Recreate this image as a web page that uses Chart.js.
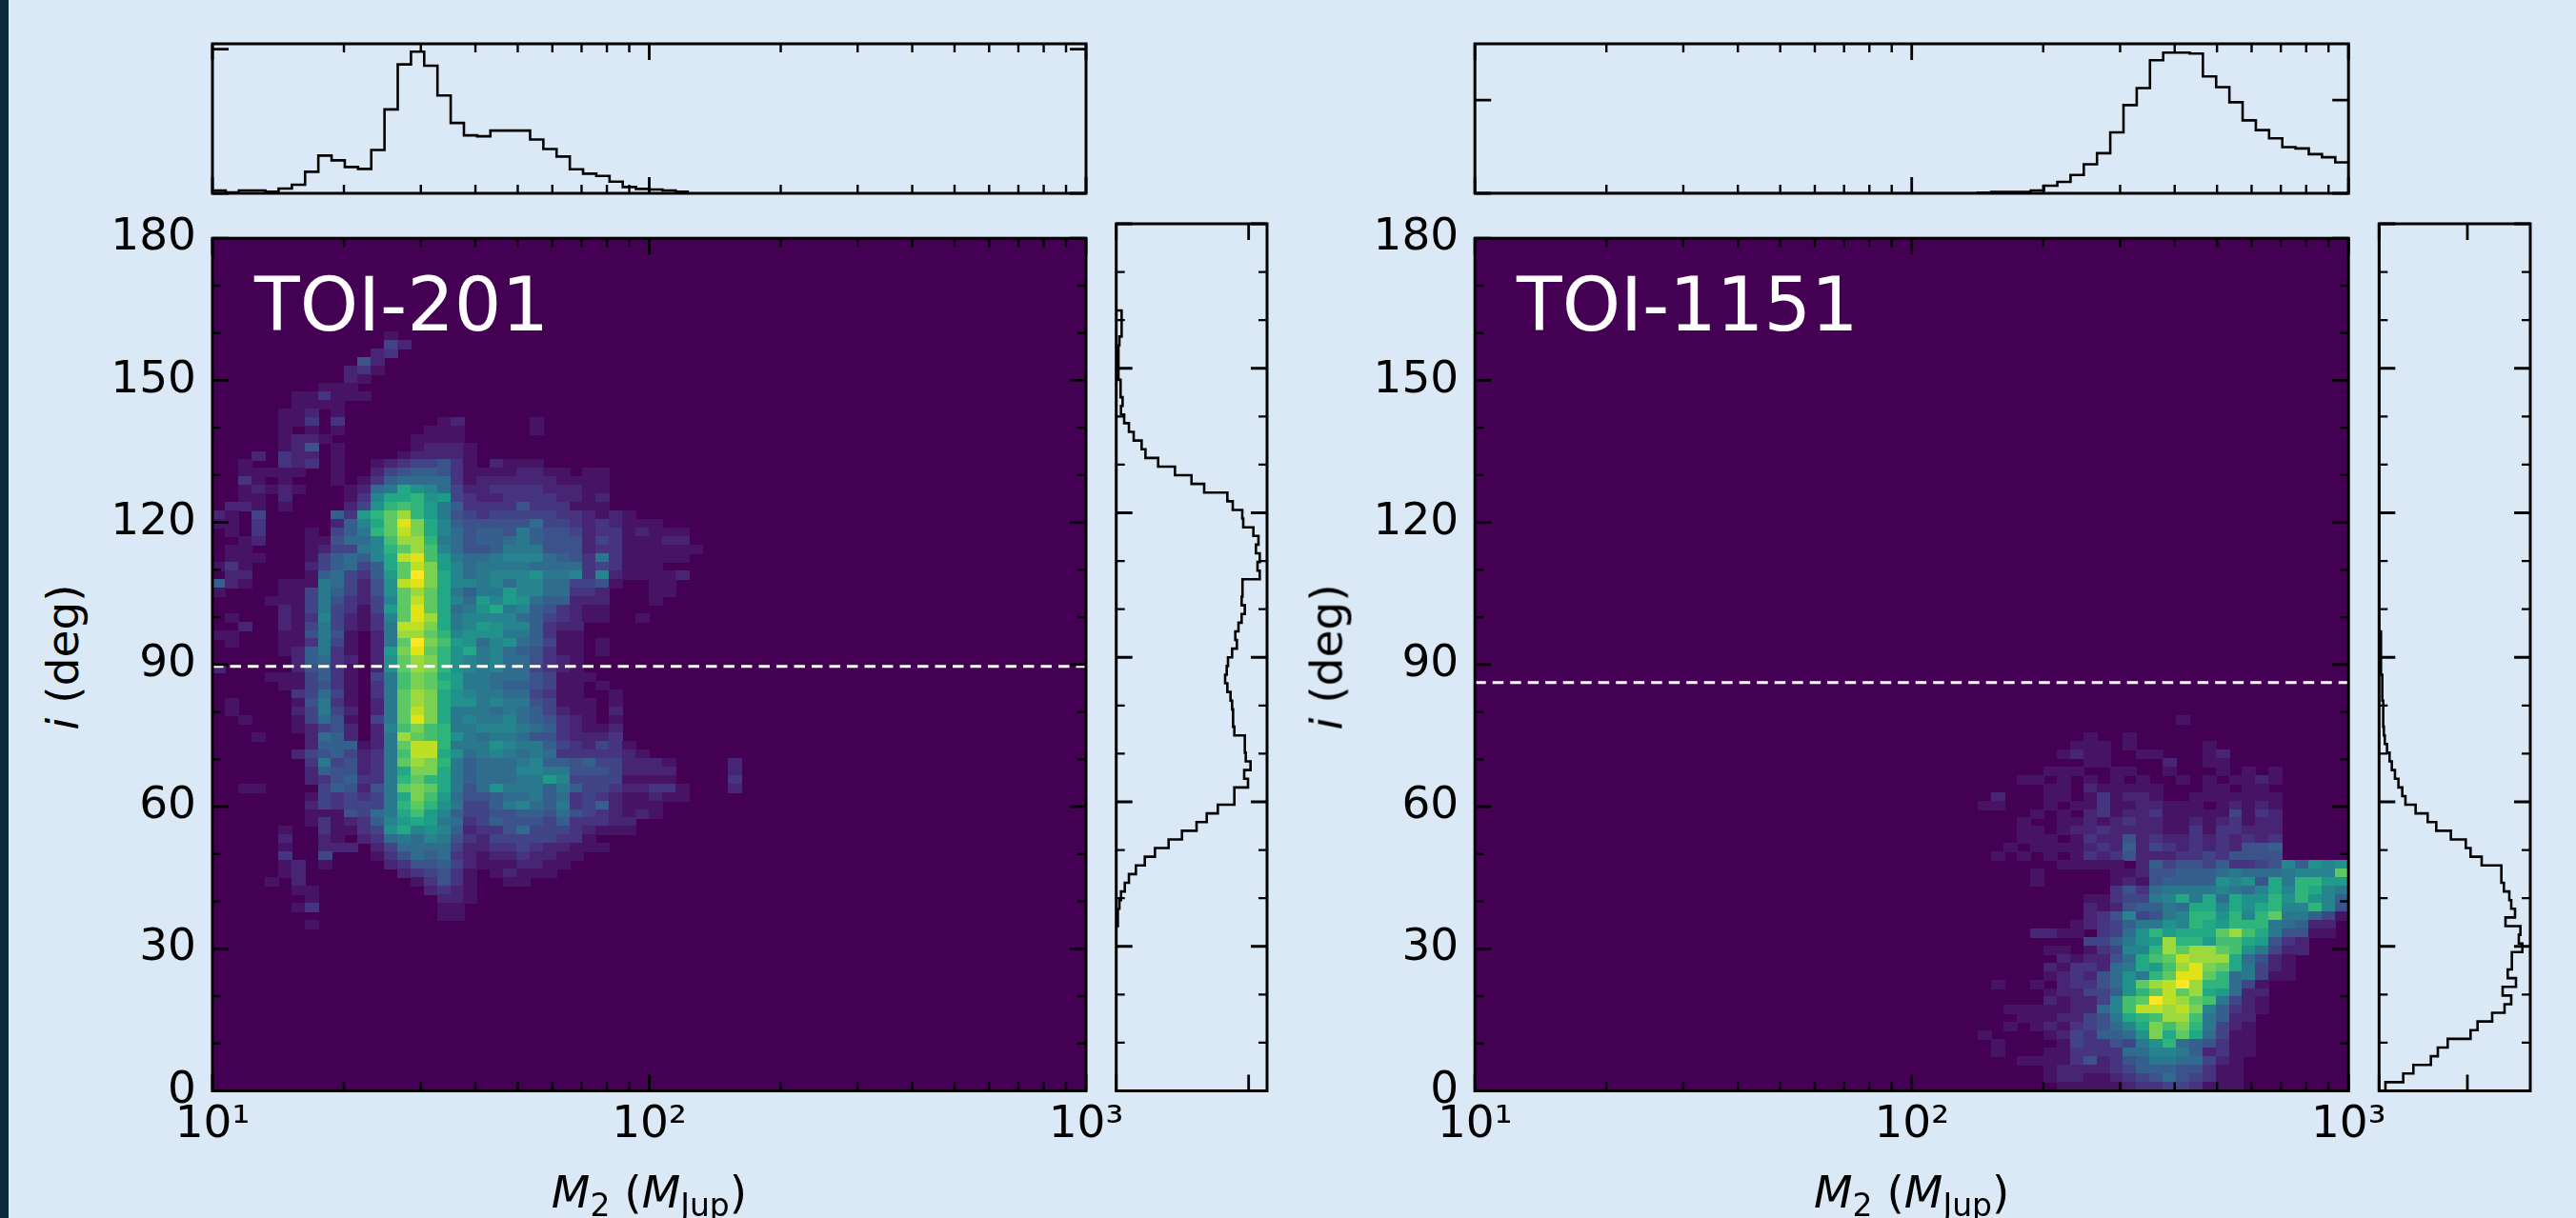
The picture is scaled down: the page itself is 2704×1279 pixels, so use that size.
<!DOCTYPE html>
<html><head><meta charset="utf-8">
<script src="https://cdn.jsdelivr.net/npm/chart.js@4"></script>
<style>
html,body{margin:0;padding:0;background:#dbe9f6;width:2704px;height:1279px;overflow:hidden;font-family:"DejaVu Sans",sans-serif;color:#000}
canvas{position:absolute;display:block}
#stripe{position:absolute;left:0;top:0;width:9px;height:1279px;background:#0c2a3e}
.t{position:absolute;white-space:nowrap;line-height:1}
.xl,.yl{font-size:47px}
.xl{transform:translateX(-50%)}
.yl{transform:translate(-50%,-50%) rotate(-90deg)}
.xl sub{font-size:33px;vertical-align:-9px;line-height:0}
.name{font-size:78px;color:#fff}
</style></head><body>
<div id="stripe"></div>
<script>
// ---------- data ----------
const xEdgeRange=[10,1000], yRange=[0,180], nX=66, nY=100;
const xMajorTicks=[10,100,1000];
const xMinorTicks=[20,30,40,50,60,70,80,90,200,300,400,500,600,700,800,900];
const xTickLabels=['10¹','10²','10³'];
const yMajorTicks=[0,30,60,90,120,150,180];
const yMinorTicks=[10,20,40,50,70,80,100,110,130,140,160,170];
const yTickLabels=['0','30','60','90','120','150','180'];
const names=['TOI-201','TOI-1151'];
const dashedLevels=[89.6,86.2];

// top histograms: one count per mass bin
const topCountsA=[9,3,9,9,5,15,27,68,119,104,83,77,137,265,407,447,403,309,222,183,180,198,198,198,170,140,116,76,62,55,37,20,14,12,9,5];
const topCountsB=[0,0,0,0,0,0,0,0,0,0,0,0,0,0,0,0,0,0,0,0,0,0,0,0,0,0,0,0,0,0,0,0,0,0,0,0,0,0,2,4,4,4,9,24,36,58,92,127,193,279,333,421,445,445,442,370,336,288,231,200,174,146,142,124,114,98];
const topScaleMax=[472,473];
const topTickExtra=[455,295];

// side histograms: one count per inclination bin, from i = 0 upward
const sideCountsA=[0,0,0,0,0,0,0,0,0,0,0,0,0,0,0,0,0,0,0,5,5,10,15,27,40,62,90,122,165,207,253,285,320,372,372,415,403,423,408,405,405,372,368,368,365,360,350,343,348,352,365,380,375,385,395,405,395,397,398,452,445,452,440,448,432,400,397,367,350,277,237,185,132,92,80,55,40,25,15,20,15,13,7,7,7,7,10,17,17,17,0,0,0,0,0,0,0,0,0,0];
const sideCountsB=[20,76,108,163,185,216,288,310,356,395,416,389,431,405,418,418,451,440,445,398,428,416,410,393,385,385,323,288,273,226,180,153,115,83,73,61,50,40,33,25,18,15,13,13,13,10,10,10,6,6,6,6,6,0,0,0,0,0,0,0,0,0,0,0,0,0,0,0,0,0,0,0,0,0,0,0,0,0,0,0,0,0,0,0,0,0,0,0,0,0,0,0,0,0,0,0,0,0,0,0];
const sideScaleMax=[475,476];
const sideTickExtra=[417,278];

// 2-D histogram levels 0..20 (0-9, a-k); each row lists columns left to right in groups of five
const cellRowsTopA=88;
const cellRowsA=[
"00000 00000 00010",
"00000 00000 00042",
"00000 00000 00230",
"00000 00000 05200",
"00000 00000 23100",
"00000 00000 21000",
"00000 00011 10000",
"00000 01131 11000",
"00000 01111",
"00000 11201",
"00000 11303 00000 00120 00001",
"00000 10101 00000 01110 00001",
"00000 12210 00000 11110",
"00000 12501 00000 12221",
"00020 32201 00001 22221",
"00100 32301 00123 44531 02111",
"00111 11001 00245 66531 11122 11011",
"00310 10001 01367 77731 22222 21111",
"00121 21000 1278c a9742 23333 22211",
"00110 20000 139cc dab43 22333 32212",
"02210 10000 24ade db863 33353 33111",
"21040 00006 3bdfh db854 34444 43321 21000",
"11030 00002 69cfj gc965 55557 44323 21110",
"01030 00104 68dfi gc975 66586 55423 31211 1",
"00120 00115 779eh hd875 66786 55524 31112 2",
"01100 00124 489df he975 56888 55523 31111 11",
"01110 00146 769ci jeb87 78999 76538 31111 1",
"13100 00246 746cf igb97 88887 77734 31110",
"02200 00167 436bf kgc97 8999a 88939 21111 2",
"62100 11187 425ai jgc99 89799 77445 10011",
"10000 11486 425af hfc86 88b99 77332 00011",
"00001 11485 3249f ifc97 b9ba7 66222 00010",
"00000 21484 314bf jfc78 ac896 53211",
"01000 21394 2139f jhc89 99976 43211 00100",
"00200 21484 2138i igc89 ba996 32200",
"11000 11585 1028h hfd9a aa886 31100",
"01000 11384 1028f kgeba 79a76 41101",
"00000 12683 102bg jfdac 89765 31101",
"00000 02673 202af hgda9 89775 32100",
"20000 02563 102af hgda9 89774 32100",
"00001 11463 1048e gfcb8 87775 41110",
"00000 11453 1038e gfdb8 87665 41101",
"00000 03474 1038f hgca9 88774 31100 10000",
"01000 01583 1028f hgcaa 89885 41110 10000",
"01000 02484 2028f igc88 87876 42110 20000",
"00100 01475 1048f jgc89 88976 53210 10000",
"00000 01245 2029e ged88 99987 63211 20000",
"00010 00276 2028h feda8 78875 53222 30000",
"00000 00266 6128f iid88 8a988 64324 31000",
"00000 02456 4238e iica7 89878 73333 32100",
"00000 00384 5238f hgd86 77789 66564 42221 00002",
"00000 00265 5238c ggc86 77799 88555 42222 00002",
"00000 00235 6338d fdc86 77788 b9444 41111 00003",
"00110 00046 5258f gfc85 7a888 68644 32233 10002",
"00000 00143 4348c geb75 56778 67343 21121 10000",
"00000 00243 4448d fda84 46897 68346 21110",
"00000 00111 5478c eb964 45566 57543 21210",
"00000 00131 2369b cb873 46555 46333 22000",
"00000 10031 134ac 9a962 33574 44321 11000",
"00000 20021 02378 79853 24444 43310",
"00000 10022 20247 77742 23343 22111",
"00000 30040 00135 76732 12232 21100",
"00000 12010 00023 55642 11122 11000",
"00000 12000 00002 34531 01211 10000",
"00001 02000 00000 13531 00110",
"00000 01100 00000 02321",
"00000 00100 00000 00221",
"00000 01300 00000 00110",
"00000 00000 00000 00110",
"00000 00100"
];
const cellColStartB=35;
const cellRowsTopB=43;
const cellRowsB=[
"00000 00000 00000 00010",
"",
"00000 00000 01001",
"00000 00000 11101 00000 10000",
"00000 00001 21100 11000 12000",
"00000 00000 01100 00200 11000",
"00000 00011 10011 00100 01010 1",
"00000 01101 01010 10010 10112 1",
"00000 00011 02111 11000 11011 0",
"00002 00011 01312 21001 11111 1",
"00011 00010 11311 22111 01212 1",
"00000 00101 02312 23111 11413 2",
"00000 01001 12123 22112 12312 2",
"00000 01101 22322 22113 13322 2",
"00000 01110 13225 23223 23232 3",
"00000 10111 12326 24323 23255 6",
"00001 01010 13235 22233 43555 5",
"00000 00001 11110 26455 46334 596a9 a",
"00000 00100 00011 25566 67877 78999 f",
"00000 00100 00012 15666 6a9a5 c8ddb b",
"00000 00000 00035 37888 89879 c9dc9 8",
"00000 00000 01134 489c8 c7caa dada9 6",
"00000 00000 02125 6687c c9cac d99d9 5",
"00000 00000 02359 4589d dad9d f8864 1",
"00000 00000 12346 88a9d cbddd 87622",
"00000 00221 10347 adbcc cfhec 85511",
"00000 00000 04468 abhdd beecb 53200",
"00000 00011 01349 9dhfh hfea8 42200",
"00000 00002 12257 cefih hhc75 21000",
"00000 00021 33278 cbehj gfc84 21000",
"00000 00012 3257a 8dfjj fd784 11000",
"00001 00102 3357a fhikh dd741",
"00000 00012 2446a dfifh cb722",
"00000 00021 2249e fkihf e8421",
"00000 11111 2279e iihig 96321",
"00000 01112 2458c dehhe 86220",
"00000 10121 34579 cgegd 84210",
"00010 00012 43667 agcfc 74110",
"00001 00001 43354 8ad76 53110",
"00001 00011 33337 79986 23110",
"00000 01111 35235 68877 42100",
"00000 00012 22234 66655 31100",
"00000 00012 21123 45754 31100",
"00000 00001 11112 33443 11100"
];
const viridis=['#440154','#471365','#482475','#463480','#414487','#3b528b','#355f8d','#2f6c8e','#2a788e','#25848e','#21918c','#1e9c89','#22a884','#2fb47c','#44bf70','#5ec962','#7ad151','#9bd93c','#bddf26','#dfe318','#fde725'];

// ---------- layout ----------
const panels=[
 {mainX:223,histRight:1330,sideX:1171.7,labelX:65,nameX:267},
 {mainX:1548.2,histRight:2656,sideX:2497.3,labelX:1392,nameX:1592}
];
const plotW=917,plotTop=235,plotBottom=1145.5,topHistTop=46,topHistBottom=203,spine=3,majorLen=17,minorLen=9;

// ---------- helpers ----------
const sprites=viridis.map(c=>{const s=document.createElement('canvas');s.width=15;s.height=10;const g=s.getContext('2d');g.fillStyle=c;g.fillRect(0,0,15,10);return s;});
const xEdge=k=>xEdgeRange[0]*Math.pow(xEdgeRange[1]/xEdgeRange[0],k/nX);
const yEdge=k=>yRange[0]+(yRange[1]-yRange[0])*k/nY;
function cellPoints(rows,topRow,startCol){
  const pts=[];
  rows.forEach((r,ri)=>{
    const row=topRow-ri, s=r.replace(/ /g,'');
    for(let c=0;c<s.length;c++){
      const v=parseInt(s[c],36);
      if(v>0) pts.push({x:Math.sqrt(xEdge(c+startCol)*xEdge(c+startCol+1)),y:(yEdge(row)+yEdge(row+1))/2,v});
    }
  });
  return pts;
}
function topSteps(counts,startBin){
  const pts=[];
  counts.forEach((n,i)=>{pts.push({x:xEdge(i+startBin),y:n},{x:xEdge(i+startBin+1),y:n});});
  return pts;
}
function sideSteps(counts){
  const pts=[];
  counts.forEach((n,i)=>{pts.push({x:n,y:yEdge(i)},{x:n,y:yEdge(i+1)});});
  return pts;
}
const frame={
  id:'frame',
  beforeDatasetsDraw(chart,a,o){
    if(!o.fill)return;
    const {ctx,chartArea:c}=chart;ctx.save();ctx.fillStyle=o.fill;ctx.fillRect(c.left,c.top,c.right-c.left,c.bottom-c.top);ctx.restore();
  },
  afterDraw(chart,a,o){
    const {ctx,chartArea:c,scales}=chart;
    ctx.save();ctx.strokeStyle='#000';ctx.lineCap='butt';
    const drawX=(vals,len)=>{vals.forEach(v=>{const p=scales.x.getPixelForValue(v);
      ctx.beginPath();ctx.moveTo(p,c.top);ctx.lineTo(p,c.top+len);ctx.moveTo(p,c.bottom);ctx.lineTo(p,c.bottom-len);ctx.stroke();});};
    const drawY=(vals,len)=>{vals.forEach(v=>{const p=scales.y.getPixelForValue(v);
      ctx.beginPath();ctx.moveTo(c.left,p);ctx.lineTo(c.left+len,p);ctx.moveTo(c.right,p);ctx.lineTo(c.right-len,p);ctx.stroke();});};
    ctx.lineWidth=2.4;
    drawX(o.xMinor||[],minorLen);drawY(o.yMinor||[],minorLen);
    ctx.lineWidth=2.8;
    drawX(o.xMajor||[],majorLen);drawY(o.yMajor||[],majorLen);
    ctx.lineWidth=spine;
    ctx.strokeRect(c.left,c.top,c.right-c.left,c.bottom-c.top);
    ctx.restore();
  }
};
function place(left,top,width,height){
  const cv=document.createElement('canvas');
  cv.width=width;cv.height=height;cv.style.left=left+'px';cv.style.top=top+'px';
  cv.style.width=width+'px';cv.style.height=height+'px';
  document.body.appendChild(cv);return cv;
}
const base=(padding,frameOpts)=>({
  responsive:false,animation:false,events:[],
  layout:{padding,autoPadding:false},
  plugins:{legend:{display:false},tooltip:{enabled:false},frame:frameOpts}
});
const hideGrid={display:false,drawTicks:false};

panels.forEach((p,n)=>{
  // main 2-D histogram
  const padL=130,padB=100,padT=30,padR=60;
  const cells=n===0?cellPoints(cellRowsA,cellRowsTopA,0):cellPoints(cellRowsB,cellRowsTopB,cellColStartB);
  const left=Math.floor(p.mainX)-padL, offs=p.mainX-Math.floor(p.mainX);
  const mainH=Math.round(plotBottom-plotTop)+padT+padB+1;
  const mainCanvas=place(left,plotTop-padT,Math.ceil(plotW+offs)+padL+padR,mainH);
  const opts=base({left:0,top:padT,right:Math.ceil(plotW+offs)+padR-plotW-offs,bottom:0},
    {fill:viridis[0],xMajor:xMajorTicks,xMinor:xMinorTicks,yMajor:yMajorTicks,yMinor:yMinorTicks});
  opts.scales={
    x:{type:'logarithmic',position:'bottom',min:xEdgeRange[0],max:xEdgeRange[1],
       grid:hideGrid,border:{display:false},
       afterBuildTicks:s=>{s.ticks=xMajorTicks.map(v=>({value:v,major:true}));},
       afterFit:s=>{s.height=mainH-padT-(plotBottom-plotTop);},
       ticks:{autoSkip:false,maxRotation:0,minRotation:0,padding:8,color:'#000',font:{family:'DejaVu Sans',size:47},
              callback:v=>xTickLabels[xMajorTicks.indexOf(v)]}},
    y:{type:'linear',position:'left',min:yRange[0],max:yRange[1],
       grid:hideGrid,border:{display:false},
       afterBuildTicks:s=>{s.ticks=yMajorTicks.map(v=>({value:v}));},
       afterFit:s=>{s.width=padL+offs;},
       ticks:{autoSkip:false,padding:17,color:'#000',font:{family:'DejaVu Sans',size:47},
              callback:v=>yTickLabels[yMajorTicks.indexOf(v)]}}
  };
  new Chart(mainCanvas,{type:'scatter',plugins:[frame],options:opts,data:{datasets:[
    {label:'dashed',order:0,showLine:true,data:[{x:xEdgeRange[0],y:dashedLevels[n]},{x:xEdgeRange[1],y:dashedLevels[n]}],
     borderColor:'#fff',borderWidth:3,borderDash:[11.5,7],pointRadius:0,fill:false},
    {label:'cells',order:1,showLine:false,data:cells,pointRadius:8,
     pointStyle:c=>sprites[c.raw?c.raw.v:0]}
  ]}});

  // top histogram
  const tPad=6;
  const counts=n===0?topCountsA:topCountsB;
  const topCanvas=place(Math.floor(p.mainX)-tPad,topHistTop-tPad,Math.ceil(plotW+offs)+2*tPad,topHistBottom-topHistTop+2*tPad);
  const tOpts=base({left:tPad+offs,top:tPad,right:Math.ceil(plotW+offs)-plotW-offs+tPad,bottom:tPad},
    {xMajor:xMajorTicks,xMinor:xMinorTicks,yMajor:[0,topTickExtra[n]]});
  tOpts.scales={
    x:{type:'logarithmic',display:false,min:xEdgeRange[0],max:xEdgeRange[1]},
    y:{type:'linear',display:false,min:0,max:topScaleMax[n]}
  };
  new Chart(topCanvas,{type:'scatter',plugins:[frame],options:tOpts,data:{datasets:[
    {label:'top',showLine:true,data:topSteps(counts,0),borderColor:'#000',borderWidth:2.6,pointRadius:0,fill:false}
  ]}});

  // side histogram
  const sCounts=n===0?sideCountsA:sideCountsB;
  const sLeft=Math.floor(p.sideX), sOff=p.sideX-sLeft, sW=p.histRight-p.sideX;
  const sideCanvas=place(sLeft-tPad,plotTop-tPad,Math.ceil(sW+sOff)+2*tPad,Math.round(plotBottom-plotTop)+1+2*tPad);
  const sOpts=base({left:tPad+sOff,top:tPad,right:Math.ceil(sW+sOff)-sW-sOff+tPad,bottom:tPad+Math.round(plotBottom-plotTop)+1-(plotBottom-plotTop)},
    {xMajor:[0,sideTickExtra[n]],yMajor:yMajorTicks,yMinor:yMinorTicks});
  sOpts.scales={
    x:{type:'linear',display:false,min:0,max:sideScaleMax[n]},
    y:{type:'linear',display:false,min:yRange[0],max:yRange[1]}
  };
  new Chart(sideCanvas,{type:'scatter',plugins:[frame],options:sOpts,data:{datasets:[
    {label:'side',showLine:true,data:sideSteps(sCounts),borderColor:'#000',borderWidth:2.6,pointRadius:0,fill:false}
  ]}});

  // text
  const add=(cls,html,l,t)=>{const d=document.createElement('div');d.className='t '+cls;d.innerHTML=html;d.style.left=l+'px';d.style.top=t+'px';document.body.appendChild(d);};
  add('xl','<i>M</i><sub>2</sub> (<i>M</i><sub>Jup</sub>)',p.mainX+plotW/2,1228);
  add('yl','<i>i</i> (deg)',p.labelX,(plotTop+plotBottom)/2);
  add('name',names[n],p.nameX,281);
});
</script>
</body></html>
